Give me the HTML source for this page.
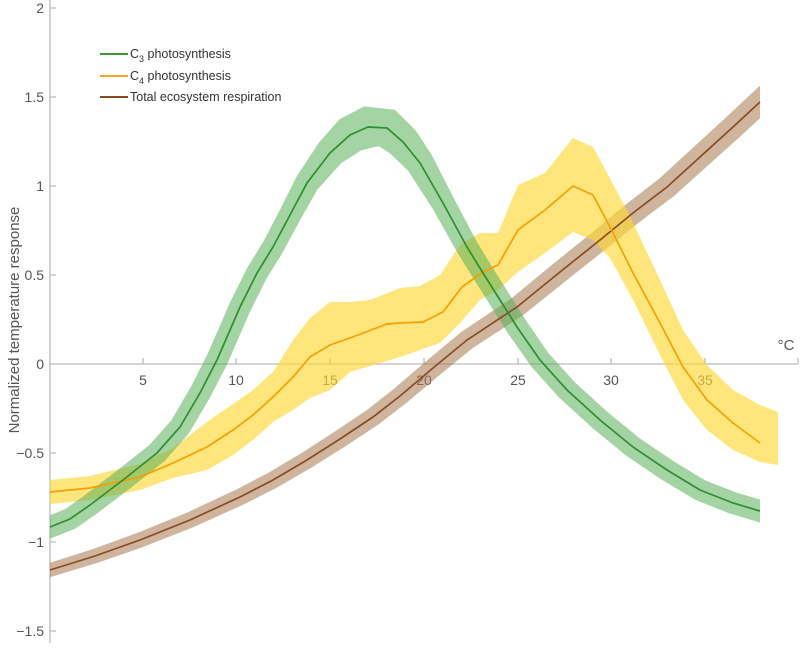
<!DOCTYPE html>
<html><head><meta charset="utf-8"><style>
body{margin:0;background:#fff}
svg text{font-family:"Liberation Sans",Arial,sans-serif;fill:#555}
</style></head><body>
<svg id="s" width="802" height="643" viewBox="0 0 802 643" xmlns="http://www.w3.org/2000/svg">
<g stroke="#bbb" stroke-width="1.3" fill="none">
<line x1="50" y1="0" x2="50" y2="643"/>
<line x1="50" y1="364" x2="798" y2="364"/>
<line x1="798" y1="358" x2="798" y2="364"/>
<path d="M143 358V364M236 358V364M330 358V364M424 358V364M518 358V364M611 358V364M705 358V364"/>
<path d="M50 8H56M50 97H56M50 186H56M50 275H56M50 453H56M50 542H56M50 631H56"/>
</g>
<g font-size="14" text-anchor="end">
<text x="44" y="13">2</text><text x="44" y="102">1.5</text><text x="44" y="191">1</text>
<text x="44" y="280">0.5</text><text x="44" y="369">0</text><text x="44" y="458">−0.5</text>
<text x="44" y="547">−1</text><text x="44" y="636">−1.5</text>
</g>
<g font-size="14" text-anchor="middle">
<text x="143" y="385">5</text><text x="236" y="385">10</text><text x="330" y="385">15</text>
<text x="424" y="385">20</text><text x="518" y="385">25</text><text x="611" y="385">30</text><text x="705" y="385">35</text>
</g>
<text x="786" y="350" font-size="15" text-anchor="middle">°C</text>
<text transform="translate(19,320) rotate(-90)" font-size="15" text-anchor="middle">Normalized temperature response</text>
<g id="bands"></g>
<g font-size="12.5">
<line x1="100" y1="54" x2="128" y2="54" stroke="#3a9a3a" stroke-width="2"/>
<text x="130" y="58" style="fill:#333">C<tspan font-size="9" dy="4">3</tspan><tspan dy="-4"> photosynthesis</tspan></text>
<line x1="100" y1="76" x2="128" y2="76" stroke="#f5a623" stroke-width="2"/>
<text x="130" y="80" style="fill:#333">C<tspan font-size="9" dy="4">4</tspan><tspan dy="-4"> photosynthesis</tspan></text>
<line x1="100" y1="97" x2="128" y2="97" stroke="#8b4a22" stroke-width="2"/>
<text x="130" y="101" style="fill:#333">Total ecosystem respiration</text>
</g>
</svg>
<script>
var c3=[[50,527],[70,519],[90,505],[123,480],[157,453],[180,427],[200,393],[217,360],[240,307],[257,273],[273,247],[290,215],[307,183],[330,153],[350,135],[368,127],[387,128],[403,142],[420,163],[443,203],[467,247],[483,273],[500,300],[517,327],[540,360],[567,390],[600,420],[633,447],[667,470],[700,490],[733,503],[760,511]];
var c4=[[50,492],[90,488],[140,477],[173,463],[207,447],[233,430],[253,415],[273,397],[293,377],[310,357],[330,345],[350,338],[387,324],[400,323],[423,322],[443,312],[462,287],[483,272],[498,265],[518,230],[545,210],[573,186],[593,195],[610,227],[633,273],[660,323],[683,367],[707,400],[733,423],[760,443]];
var c4u=[[50,480],[90,476],[140,464],[173,448],[207,422],[233,404],[253,390],[273,372],[293,340],[310,318],[330,302],[350,302],[370,300],[400,288],[420,286],[440,275],[460,245],[480,233],[498,233],[518,185],[545,173],[573,138],[593,147],[627,210],[660,280],[683,330],[707,365],[733,390],[760,405],[778,412]];
var c4l=[[50,504],[90,500],[140,490],[173,478],[207,470],[233,455],[253,440],[273,422],[293,410],[310,398],[330,390],[350,372],[400,357],[440,343],[460,323],[480,300],[498,290],[518,272],[545,253],[573,232],[593,240],[610,258],[633,300],[660,355],[683,400],[707,430],[733,450],[760,462],[778,465]];
var re=[[50,570],[95,556],[140,540],[190,520],[240,497],[273,480],[307,460],[340,439],[373,417],[400,396],[433,368],[467,340],[517,307],[560,272],[600,240],[633,213],[667,187],[700,157],[733,127],[760,102]];
var g=document.getElementById('bands');
function off(p,w){
 var up=[],dn=[];
 for(var i=0;i<p.length;i++){
  var a=p[Math.max(0,i-1)],b=p[Math.min(p.length-1,i+1)];
  var dx=b[0]-a[0],dy=b[1]-a[1],L=Math.sqrt(dx*dx+dy*dy);
  var nx=dy/L,ny=-dx/L,ww=w(p[i][0]);
  if(i==0||i==p.length-1){nx=0;ny=-1;ww=ww*L/Math.abs(dx);}
  up.push([p[i][0]+nx*ww,p[i][1]+ny*ww]);dn.push([p[i][0]-nx*ww,p[i][1]-ny*ww]);
 }
 return [up,dn];
}
function poly(up,dn,fill,op){
 var pts=up.concat(dn.slice().reverse()).map(function(q){return q[0].toFixed(1)+','+q[1].toFixed(1)}).join(' ');
 g.insertAdjacentHTML('beforeend','<polygon points="'+pts+'" fill="'+fill+'" fill-opacity="'+op+'"/>');
}
function line(p,c){return '<polyline points="'+p.map(function(q){return q.join(',')}).join(' ')+'" fill="none" stroke="'+c+'" stroke-width="1.7"/>';}
var l=[];
var r=off(re,function(x){return 7+5*(x-50)/710});poly(r[0],r[1],'#a8764f',0.55);l.push(line(re,'#8b4a22'));
poly(c4u,c4l,'#fdd835',0.65);l.push(line(c4,'#f5a000'));
r=off(c3,function(x){return 11+10*Math.exp(-Math.pow((x-372)/45,2))});poly(r[0],r[1],'#5aae5a',0.55);l.push(line(c3,'#2e8f2e'));
g.insertAdjacentHTML('beforeend',l.join(''));
</script>
</body></html>
